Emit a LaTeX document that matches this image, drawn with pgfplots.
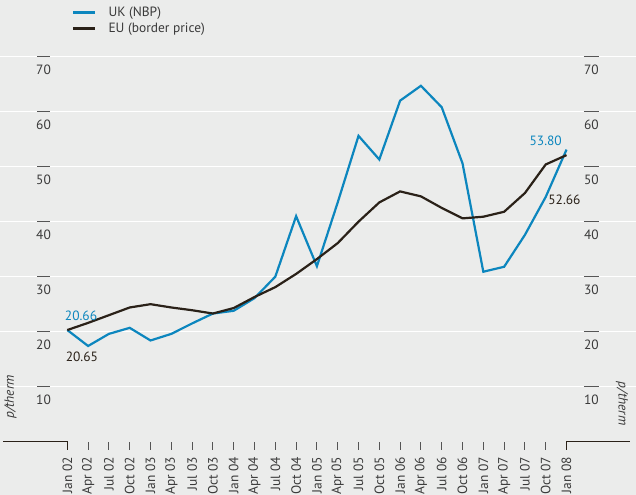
\documentclass[border=0pt]{standalone}
\usepackage{fontspec}
\setmainfont{PT Sans}
\usepackage{pgfplots}
\pgfplotsset{compat=1.18}
\definecolor{bgc}{RGB}{235,236,235}
\definecolor{ukblue}{RGB}{12,134,190}
\definecolor{eublack}{RGB}{42,33,24}
\definecolor{txt}{RGB}{58,58,58}
\definecolor{tickc}{RGB}{85,85,85}
\newcommand{\fs}{\fontsize{13.5}{15}\selectfont}
\begin{document}
\begin{tikzpicture}[x=1bp,y=1bp]
\fill[bgc] (0,-53.3) rectangle (636,441.7);
\path[use as bounding box] (0,-53.3) rectangle (636,441.7);
\begin{axis}[
  at={(0,0)}, anchor=south west,
  scale only axis,
  width=636bp, height=441.7bp,
  xmin=-3.236, xmax=27.341,
  ymin=0, ymax=80.3,
  axis line style={draw=none},
  clip=false,
  ymajorgrids,
  grid style={white, line width=1.4bp},
  ytick={10,20,30,40,50,60,70},
  yticklabels={},
  ytick style={draw=none},
  xtick={0,...,24},
  xticklabels={Jan 02,Apr 02,Jul 02,Oct 02,Jan 03,Apr 03,Jul 03,Oct 03,Jan 04,Apr 04,Jul 04,Oct 04,Jan 05,Apr 05,Jul 05,Oct 05,Jan 06,Apr 06,Jul 06,Oct 06,Jan 07,Apr 07,Jul 07,Oct 07,Jan 08},
  tick align=outside,
  xtick style={draw=tickc, line width=0.9bp},
  major tick length=8bp,
  xticklabel style={rotate=90, anchor=east, font=\fs, text=txt, inner sep=0pt},
  xticklabel shift=7bp,
  legend style={draw=none, fill=none, at={(72bp,436bp)}, anchor=north west, font=\fs, text=txt, inner sep=0pt, row sep=3bp, legend cell align=left,
    nodes={inner xsep=2bp, inner ysep=1bp}},
  legend image code/.code={\draw[#1, line width=2.4bp] (0bp,0bp) -- (22bp,0bp); \path (32bp,0bp);},
]
\addplot[ukblue, line width=2.2bp] coordinates {
(0,20.3) (1,17.4) (2,19.6) (3,20.7) (4,18.4) (5,19.6) (6,21.5) (7,23.3) (8,23.8)
(9,26.1) (10,30.0) (11,41.0) (12,31.9) (13,43.5) (14,55.6) (15,51.3) (16,62.0)
(17,64.7) (18,60.8) (19,50.6) (20,30.9) (21,31.8) (22,37.6) (23,44.5) (24,53.1)
};
\addlegendentry{UK (NBP)}
\addplot[eublack, line width=2.2bp] coordinates {
(0,20.3) (1,21.6) (2,23.0) (3,24.4) (4,25.0) (5,24.4) (6,23.9) (7,23.3) (8,24.3)
(9,26.3) (10,28.1) (11,30.5) (12,33.2) (13,36.1) (14,40.0) (15,43.5) (16,45.5)
(17,44.6) (18,42.5) (19,40.6) (20,40.9) (21,41.8) (22,45.2) (23,50.4) (24,52.1)
};
\addlegendentry{EU (border price)}
\node[ukblue, font=\fs] at (axis cs:0.66,22.9) {20.66};
\node[eublack, font=\fs] at (axis cs:0.7,15.4) {20.65};
\node[ukblue, font=\fs] at (axis cs:23.0,54.7) {53.80};
\node[eublack, font=\fs] at (axis cs:23.9,43.9) {52.66};
\pgfplotsinvokeforeach{10,20,30,40,50,60,70}{
  \draw[tickc, line width=0.9bp] (axis cs:-1.457,#1) -- (axis cs:-0.832,#1);
  \draw[tickc, line width=0.9bp] (axis cs:24.84,#1) -- (axis cs:25.56,#1);
  \node[txt, font=\fs] at (axis cs:-1.144,#1-2.36) {#1};
  \node[txt, font=\fs] at (axis cs:25.2,#1-2.36) {#1};
}
\draw[eublack, line width=0.9bp] (axis cs:-3.09,0) -- (axis cs:0,0) -- (axis cs:0,-1.45);
\draw[eublack, line width=0.9bp] (axis cs:27.05,0) -- (axis cs:24,0) -- (axis cs:24,-1.45);
\end{axis}
\node[txt, rotate=90, font=\itshape\fs] at (10.5,44.7) {p/therm};
\node[txt, rotate=-90, font=\itshape\fs] at (622,38.2) {p/therm};
\end{tikzpicture}
\end{document}
